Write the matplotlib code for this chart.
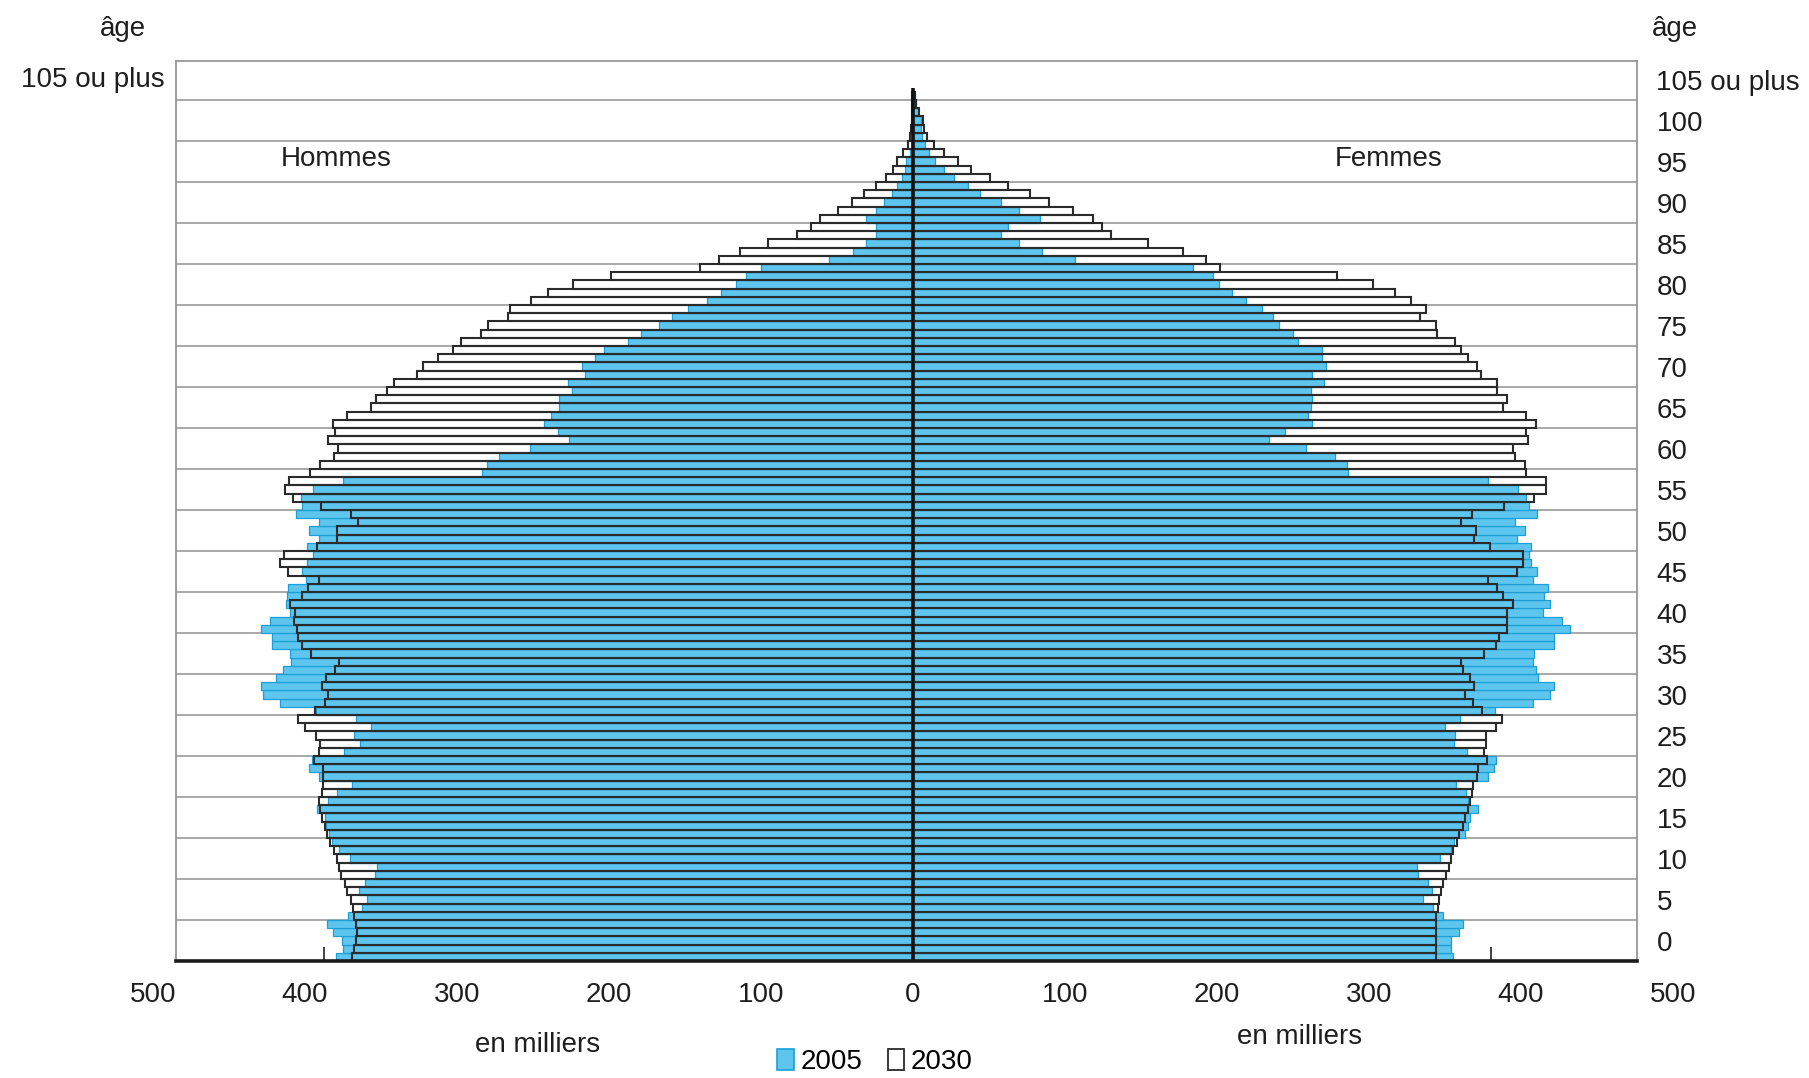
import numpy as np
import matplotlib.pyplot as plt
from matplotlib.patches import Patch

plt.rcParams['font.family'] = ['Liberation Sans', 'DejaVu Sans']

# --------------------------------
# Data (en milliers), ages 0 .. 105 ou plus
# --------------------------------
ages = np.arange(106)

hommes_2005 = [
    379.6, 375.2, 375.9, 381.4, 385.3, 371.5, 362.7, 359.4, 364.3, 360.5,
    354.0, 352.8, 370.4, 377.6, 382.0, 384.0, 386.0, 387.0, 391.9, 384.7,
    378.7, 369.3, 390.6, 397.2, 395.6, 374.3, 363.8, 367.8, 356.8, 366.4,
    393.0, 416.4, 427.8, 429.2, 419.0, 414.7, 409.4, 409.7, 421.9, 421.9,
    429.2, 423.0, 409.7, 412.5, 412.0, 411.0, 399.3, 402.2, 398.9, 395.0,
    398.9, 390.6, 397.2, 390.6, 406.0, 402.2, 402.4, 394.6, 375.3, 283.5,
    280.0, 272.4, 252.1, 226.6, 233.9, 242.9, 238.0, 232.6, 232.6, 224.1,
    227.3, 216.1, 218.1, 209.5, 203.0, 187.6, 179.1, 167.4, 158.4, 147.9,
    135.3, 126.3, 116.3, 109.7, 100.0, 55.0, 39.7, 30.9, 24.3, 24.3,
    31.1, 24.3, 19.0, 14.0, 10.7, 7.5, 5.5, 4.4, 2.0, 1.0,
    0.8, 0.5, 0.4, 0.3, 0.2, 0.2,
]

hommes_2030 = [
    369.0, 367.5, 366.7, 366.0, 366.5, 367.5, 368.2, 369.7, 372.2, 373.7,
    376.5, 377.4, 379.2, 380.7, 383.5, 385.3, 387.0, 388.6, 390.0, 390.6,
    389.0, 388.0, 388.4, 388.4, 394.0, 390.6, 390.2, 392.8, 399.8, 404.4,
    393.4, 386.8, 384.6, 389.0, 386.2, 380.3, 377.6, 396.0, 402.2, 404.4,
    405.5, 407.0, 406.4, 409.9, 402.2, 398.2, 390.6, 411.0, 416.4, 413.6,
    391.9, 379.2, 379.2, 364.9, 369.9, 389.2, 408.0, 413.4, 410.3, 397.0,
    389.9, 381.2, 378.2, 385.0, 380.5, 381.6, 372.6, 356.3, 353.2, 345.8,
    341.7, 326.4, 322.7, 312.5, 302.5, 297.2, 284.5, 279.4, 266.7, 265.0,
    251.4, 239.9, 223.4, 199.0, 140.1, 127.5, 113.6, 95.6, 76.1, 67.3,
    61.2, 49.6, 40.4, 32.2, 24.3, 17.8, 13.0, 10.7, 6.4, 3.1,
    2.0, 1.5, 1.0, 0.7, 0.5, 0.5,
]

femmes_2005 = [
    355.4, 353.7, 353.7, 359.4, 362.0, 348.9, 341.9, 335.3, 341.2, 339.0,
    332.2, 331.4, 346.7, 354.0, 356.0, 363.2, 365.3, 366.4, 371.9, 365.0,
    363.8, 357.2, 378.5, 382.2, 383.6, 364.3, 355.9, 356.6, 350.0, 359.9,
    382.9, 407.7, 419.1, 421.7, 411.4, 409.9, 407.7, 408.6, 421.7, 421.7,
    432.2, 426.8, 414.2, 419.1, 415.1, 418.0, 407.7, 410.3, 406.4, 405.5,
    406.4, 397.1, 402.6, 396.0, 410.3, 405.3, 403.1, 398.0, 378.5, 286.4,
    285.7, 277.6, 258.6, 234.4, 244.7, 262.3, 260.1, 261.6, 262.3, 261.6,
    270.4, 262.7, 271.5, 268.9, 268.9, 253.5, 249.8, 241.0, 237.0, 229.4,
    218.9, 210.1, 201.3, 197.2, 184.4, 106.6, 84.6, 69.7, 57.9, 62.7,
    83.6, 69.7, 57.9, 44.1, 36.4, 27.2, 20.6, 14.5, 10.7, 7.9,
    5.7, 5.3, 5.0, 3.5, 2.0, 1.5,
]

femmes_2030 = [
    344.3, 344.1, 344.1, 344.1, 344.1, 344.1, 345.2, 346.3, 347.4, 348.9,
    350.4, 352.8, 353.7, 355.5, 357.7, 359.4, 361.7, 363.2, 365.3, 366.4,
    367.6, 368.2, 370.8, 371.9, 377.9, 375.7, 377.0, 377.0, 383.6, 387.3,
    374.2, 368.2, 363.2, 369.3, 366.4, 361.6, 360.3, 375.7, 383.5, 385.7,
    391.0, 391.0, 391.0, 395.0, 388.4, 384.4, 378.1, 397.1, 401.5, 401.0,
    379.6, 369.3, 370.4, 360.4, 368.0, 388.8, 408.6, 416.4, 416.4, 403.3,
    402.6, 396.0, 395.0, 404.8, 403.3, 409.9, 403.3, 388.4, 391.0, 384.4,
    384.4, 373.5, 370.8, 365.4, 360.3, 356.6, 344.9, 344.1, 333.6, 337.5,
    327.4, 317.1, 302.9, 278.7, 202.0, 193.0, 177.9, 154.8, 130.0, 124.1,
    118.6, 105.0, 89.7, 77.0, 62.7, 50.7, 38.2, 29.8, 20.4, 13.8,
    9.4, 7.2, 6.4, 4.2, 2.0, 1.5,
]

age_labels = [str(a) for a in range(0, 105, 5)] + ['105 ou plus']
x_labels = [-500, -400, -300, -200, -100, 0, 100, 200, 300, 400, 500]

# --------------------------------
# Style
# --------------------------------
W, H = 1809, 1078
BLUE = '#5ec6ee'
BLUE_EDGE = '#1a9fd8'
DARK = '#2b2b2b'
GRID = '#a8a8a8'
TXT = '#1e1e1e'
FS = 20

fig = plt.figure(figsize=(W / 100, H / 100), dpi=100)
ax = fig.add_axes([176 / W, 1 - 961 / H, (1637 - 176) / W, (961 - 61) / H])
ax.set_xlim(-484.9, 476.3)
ax.set_ylim(0, 109.76)

h05 = np.array(hommes_2005)
h30 = np.array(hommes_2030)
f05 = np.array(femmes_2005)
f30 = np.array(femmes_2030)

# 2005: filled blue bars
ax.barh(ages, -h05, height=1, align='edge', color=BLUE, edgecolor=BLUE_EDGE, lw=0.9, zorder=2)
ax.barh(ages, f05, height=1, align='edge', color=BLUE, edgecolor=BLUE_EDGE, lw=0.9, zorder=2)
# 2030: outlined bars on top
ax.barh(ages, -h30, height=1, align='edge', fill=False, edgecolor=DARK, lw=1.5, zorder=3)
ax.barh(ages, f30, height=1, align='edge', fill=False, edgecolor=DARK, lw=1.5, zorder=3)

# central axis line
ax.plot([0, 0], [0, 106.5], color='#111111', lw=2.6, zorder=4, solid_capstyle='butt')

# horizontal grid every 5 years
ax.set_yticks(np.arange(5, 106, 5))
ax.yaxis.grid(True, which='major', color=GRID, lw=1.4, zorder=0)
ax.set_axisbelow(True)
ax.tick_params(axis='y', which='major', length=0, labelleft=False)

# age labels centred on each 5-year group
label_pos = np.arange(2.5, 108, 5)
ax.set_yticks(label_pos, minor=True)
ax.set_yticklabels(age_labels[:-1] + [''], minor=True)
ax.tick_params(axis='y', which='minor', length=0, pad=21, labelsize=FS, labelcolor=TXT)

ax2 = ax.twinx()
ax2.set_ylim(ax.get_ylim())
ax2.set_yticks([])
ax2.set_yticks(label_pos, minor=True)
ax2.set_yticklabels(age_labels, minor=True)
ax2.tick_params(axis='y', which='minor', length=0, pad=14, labelsize=FS, labelcolor=TXT)
for s in ax2.spines.values():
    s.set_visible(False)

# left "105 ou plus" sits a little closer to the frame
ax.text(-0.008, label_pos[-1], age_labels[-1], transform=ax.get_yaxis_transform(),
        ha='right', va='center', fontsize=FS, color=TXT)

# x axis: only the two 400 marks are visible, labels spread under the frame
ax.set_xticks([-387.5, 380.3])
ax.set_xticklabels([])
ax.tick_params(axis='x', direction='in', length=10, width=1.3, color='#333333')
xt = ax.get_xaxis_transform()
for v in x_labels:
    ax.text(v, -0.038, str(abs(v)), transform=xt, ha='center', va='center',
            fontsize=FS, color=TXT, clip_on=False)

for side in ['left', 'right', 'top']:
    ax.spines[side].set_color('#8f8f8f')
    ax.spines[side].set_linewidth(1.2)
ax.spines['bottom'].set_color('#1a1a1a')
ax.spines['bottom'].set_linewidth(2.6)
ax.spines['bottom'].set_zorder(5)

# texts
def ftext(x, y, s, **kw):
    fig.text(x / W, 1 - y / H, s, fontsize=FS, color=TXT, va='center', **kw)

ftext(123, 29, 'âge', ha='center')
ftext(1675, 29, 'âge', ha='center')
ftext(336, 159, 'Hommes', ha='center')
ftext(1389, 159, 'Femmes', ha='center')
ftext(538, 1045, 'en milliers', ha='center')
ftext(1300, 1037, 'en milliers', ha='center')

handles = [Patch(facecolor=BLUE, edgecolor=BLUE_EDGE, lw=1.2, label='2005'),
           Patch(facecolor='white', edgecolor=DARK, lw=1.3, label='2030')]
fig.legend(handles=handles, loc='center', bbox_to_anchor=(875 / W, 1 - 1062 / H), ncol=2,
           frameon=False, fontsize=FS, handlelength=0.6, handleheight=0.8,
           handletextpad=0.25, columnspacing=0.9, borderpad=0)

fig.savefig('out.png', dpi=100)
